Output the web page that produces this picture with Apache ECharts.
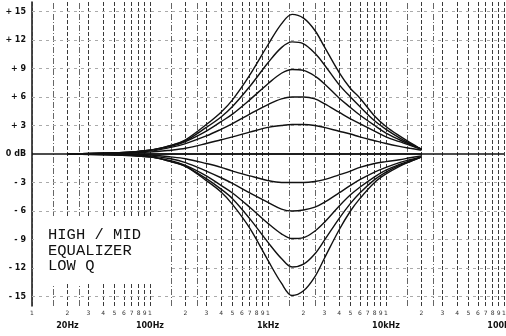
<!DOCTYPE html>
<html>
<head>
<meta charset="utf-8">
<script src="https://cdn.jsdelivr.net/npm/echarts@6/dist/echarts.min.js"></script>
<style>
  html, body { margin: 0; padding: 0; background: #fff; }
  #chart { width: 506px; height: 336px; }
</style>
</head>
<body>
<div id="chart"></div>
<script>
// sweep frequencies (Hz) the curves were read at
const freqs = [20, 50, 100, 150, 200, 300, 400, 500, 700, 1000, 1300, 1600, 2000, 2500, 3000, 4000, 5000, 6000, 8000, 10000, 13000, 16000, 20000];

// boost curves (dB)
const boost15 = [0, 0.1, 0.4, 0.9, 1.5, 3.1, 4.4, 5.7, 8.3, 11.5, 13.7, 14.7, 14.3, 13.0, 11.3, 8.6, 6.9, 5.9, 4.0, 2.9, 1.9, 1.2, 0.5];
const boost12 = [0, 0.1, 0.4, 0.9, 1.4, 2.8, 3.9, 5.0, 7.1, 9.6, 11.2, 11.8, 11.6, 10.6, 9.4, 7.3, 6.0, 5.0, 3.5, 2.6, 1.7, 1.1, 0.5];
const boost9 = [0, 0.1, 0.4, 0.8, 1.3, 2.4, 3.4, 4.2, 5.7, 7.4, 8.5, 8.9, 8.8, 8.2, 7.4, 5.9, 4.9, 4.1, 3.0, 2.2, 1.5, 1.0, 0.5];
const boost6 = [0, 0.1, 0.3, 0.7, 1.1, 1.9, 2.6, 3.2, 4.2, 5.2, 5.8, 6.0, 6.0, 5.8, 5.3, 4.4, 3.7, 3.2, 2.4, 1.8, 1.3, 0.9, 0.5];
const boost3 = [0, 0.1, 0.2, 0.4, 0.6, 1.1, 1.5, 1.8, 2.3, 2.8, 3.0, 3.1, 3.1, 3.0, 2.8, 2.4, 2.1, 1.8, 1.4, 1.1, 0.8, 0.6, 0.4];
const flat0 = [0, 0, 0, 0, 0, 0, 0, 0, 0, 0, 0, 0, 0, 0, 0, 0, 0, 0, 0, 0, 0, 0, 0];
// cut curves (dB)
const cut3 = [0, 0, -0.1, -0.3, -0.5, -1.0, -1.4, -1.8, -2.3, -2.8, -3.0, -3.0, -3.0, -2.9, -2.7, -2.2, -1.8, -1.4, -1.0, -0.8, -0.6, -0.4, -0.2];
const cut6 = [0, 0, -0.2, -0.5, -0.9, -1.8, -2.5, -3.1, -4.1, -5.1, -5.8, -6.0, -5.9, -5.6, -5.1, -4.1, -3.3, -2.7, -1.9, -1.4, -0.9, -0.6, -0.3];
const cut9 = [0, 0, -0.3, -0.7, -1.2, -2.3, -3.3, -4.1, -5.6, -7.3, -8.4, -8.9, -8.8, -8.1, -7.2, -5.5, -4.3, -3.5, -2.4, -1.7, -1.1, -0.7, -0.3];
const cut12 = [0, -0.1, -0.3, -0.8, -1.3, -2.6, -3.7, -4.7, -6.8, -9.3, -11.0, -11.9, -11.6, -10.5, -9.1, -6.8, -5.2, -4.1, -2.7, -1.9, -1.2, -0.8, -0.3];
const cut15 = [0, -0.1, -0.3, -0.8, -1.3, -2.8, -4.0, -5.3, -7.8, -11.2, -13.6, -14.9, -14.4, -12.9, -11.0, -8.0, -6.0, -4.7, -3.0, -2.1, -1.3, -0.8, -0.3];

const curves = [boost15, boost12, boost9, boost6, boost3, flat0, cut3, cut6, cut9, cut12, cut15];

// axis ticks / labels
const dbTicks = [-15, -12, -9, -6, -3, 0, 3, 6, 9, 12, 15];
const mantissas = [1, 2, 3, 4, 5, 6, 7, 8, 9];
const decades = [10, 100, 1000, 10000];
const halfLines = [15, 25, 150, 250, 1500, 2500, 15000, 25000];
const unitFreqs = [20, 100, 1000, 10000, 100000];
const unitNames = ['20Hz', '100Hz', '1kHz', '10kHz', '100kHz'];

const gridFreqs = [];
decades.forEach(d => mantissas.forEach(m => gridFreqs.push(m * d)));
gridFreqs.push(100000);

const noLabel = { show: false };

const options = {
  animation: false,
  backgroundColor: '#fff',
  grid: { left: 32, top: 2, width: 472, height: 304, outerBoundsMode: 'none', containLabel: false },
  xAxis: [
    {
      type: 'log', logBase: 10, min: 10, max: 100000,
      axisLine: { show: false }, axisTick: { show: false },
      axisLabel: { show: false }, splitLine: { show: false }
    },
    {
      // small decade digits 1..9
      type: 'value', min: 1, max: 5, position: 'bottom',
      axisLine: { show: false }, axisTick: { show: false }, splitLine: { show: false },
      axisLabel: {
        customValues: gridFreqs.map(f => Math.log10(f)),
        formatter: v => String(Math.round(Math.pow(10, v - Math.floor(v + 1e-9)))),
        fontSize: 6, color: '#333', margin: 4, fontFamily: 'DejaVu Sans'
      }
    },
    {
      // unit labels
      type: 'value', min: 1, max: 5, position: 'bottom',
      axisLine: { show: false }, axisTick: { show: false }, splitLine: { show: false },
      axisLabel: {
        customValues: unitFreqs.map(f => Math.log10(f)),
        formatter: v => unitNames[unitFreqs.findIndex(f => Math.abs(Math.log10(f) - v) < 1e-6)],
        fontSize: 8, fontWeight: 'bold', color: '#111', margin: 16, fontFamily: 'DejaVu Sans'
      }
    }
  ],
  yAxis: {
    type: 'value', min: -16, max: 16,
    axisLine: { show: true, lineStyle: { color: '#111', width: 1.5 } },
    axisTick: { show: false },
    splitLine: { show: false },
    axisLabel: {
      customValues: dbTicks,
      formatter: v => (v > 0 ? '+ ' + v : v === 0 ? '0 dB' : '- ' + (-v)),
      fontSize: 8, fontWeight: 'bold', color: '#111', margin: 6, fontFamily: 'DejaVu Sans'
    }
  },
  graphic: [
    {
      type: 'rect', left: 34, top: 216, z: 100,
      shape: { width: 136, height: 68 }, style: { fill: '#fff' }
    },
    {
      type: 'text', left: 48, top: 227, z: 101,
      style: {
        text: 'HIGH / MID\nEQUALIZER\nLOW Q',
        font: '15.5px "Liberation Mono", "DejaVu Sans Mono", monospace',
        lineHeight: 15.5, fill: '#111'
      }
    }
  ],
  series: []
};

// vertical log grid
options.series.push({
  type: 'line', data: [], silent: true,
  markLine: {
    silent: true, symbol: ['none', 'none'], label: noLabel,
    lineStyle: { color: '#3a3a3a', width: 1, type: [4, 2] },
    data: gridFreqs.map(f => ({ xAxis: f }))
  }
});
options.series.push({
  type: 'line', data: [], silent: true,
  markLine: {
    silent: true, symbol: ['none', 'none'], label: noLabel,
    lineStyle: { color: '#666', width: 1, type: [6, 2, 1, 2] },
    data: halfLines.map(f => ({ xAxis: f }))
  }
});
// horizontal dB grid
options.series.push({
  type: 'line', data: [], silent: true,
  markLine: {
    silent: true, symbol: ['none', 'none'], label: noLabel,
    lineStyle: { color: '#aaa', width: 1, type: [3, 4] },
    data: dbTicks.filter(v => v !== 0).map(v => ({ yAxis: v }))
  }
});
// 0 dB reference line
options.series.push({
  type: 'line', data: [], silent: true,
  markLine: {
    silent: true, symbol: ['none', 'none'], label: noLabel,
    lineStyle: { color: '#111', width: 1.5, type: 'solid' },
    data: [{ yAxis: 0 }]
  }
});

curves.forEach(vals => {
  options.series.push({
    type: 'line',
    xAxisIndex: 0,
    data: freqs.map((f, i) => [f, vals[i]]),
    smooth: 0.35,
    showSymbol: false,
    lineStyle: { color: '#111', width: 1.4 },
    z: 5
  });
});

const chart = echarts.init(document.getElementById('chart'));
chart.setOption(options);
</script>
</body>
</html>
